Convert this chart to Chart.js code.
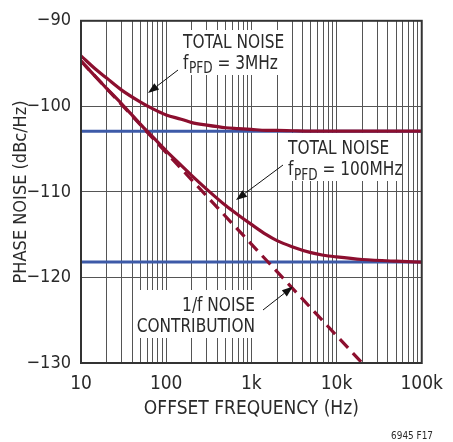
<!DOCTYPE html>
<html>
<head>
<meta charset="utf-8">
<script src="https://cdn.jsdelivr.net/npm/chart.js@4.4.1/dist/chart.umd.min.js"></script>
<style>
  html, body { margin: 0; padding: 0; background: #fff; }
  canvas { display: block; }
</style>
</head>
<body>
<canvas id="noise" width="453" height="442"></canvas>
<script>
// values
const freqs = [10, 15, 20, 30, 50, 70, 100, 150, 200, 300, 500, 700, 1000, 1500, 2000, 3000, 5000, 7000, 10000, 20000, 50000, 100000];
const total3MHz = [-94.1, -95.7, -96.7, -98.1, -99.5, -100.3, -101.0, -101.5, -101.9, -102.2, -102.5, -102.6, -102.7, -102.8, -102.8, -102.85, -102.9, -102.9, -102.9, -102.9, -102.9, -102.9];
const total100MHz = [-94.7, -96.6, -97.9, -99.7, -102.1, -103.6, -105.2, -106.9, -108.1, -109.7, -111.6, -112.7, -113.8, -115.0, -115.7, -116.4, -117.1, -117.4, -117.6, -117.9, -118.1, -118.2];
const oneOverFFreqs = [10, 100, 1000, 10000, 20000];
const oneOverF = [-94.7, -105.4, -116.1, -126.8, -130];
const floorFreqs = [10, 100000];
const floor3MHz = [-102.9, -102.9];
const floor100MHz = [-118.2, -118.2];

const xDecades = [10, 100, 1000, 10000, 100000];
const xDecadeLabels = ['10', '100', '1k', '10k', '100k'];
const yTicks = [-130, -120, -110, -100, -90];
const yTickLabels = ['\u2212130', '\u2212120', '\u2212110', '\u2212100', '\u221290'];

const FONT = "'Liberation Sans Narrow', 'DejaVu Sans Condensed', 'Liberation Sans', sans-serif";
const RED = '#8c0f2f';
const BLUE = '#3d5aa8';
const INK = '#2a2a2a';
const GRID = '#555';
const SQUEEZE = 0.9; // note text is a bit narrower than the font

function pts(xs, ys) {
    return xs.map((x, i) => ({ x: x, y: ys[i] }));
}

// gridlines at 1..9 x each decade
const gridFreqs = [];
for (let d = 10; d < 100000; d *= 10) {
    for (let k = 1; k < 10; k++) gridFreqs.push(d * k);
}
gridFreqs.push(100000);

// draw text squeezed horizontally, anchored at x
function note(c, text, x, y, size, align) {
    c.save();
    c.font = size + 'px ' + FONT;
    c.textAlign = align || 'left';
    c.translate(x, y);
    c.scale(SQUEEZE, 1);
    c.fillText(text, 0, 0);
    const w = c.measureText(text).width * SQUEEZE;
    c.restore();
    return w;
}

function subLabel(c, x, y, val) {
    let w = note(c, 'f', x, y, 19) + 0.5;
    w += note(c, 'PFD', x + w, y + 4.5, 15);
    note(c, ' = ' + val, x + w, y, 19);
}

function arrow(c, x1, y1, x2, y2) {
    const ang = Math.atan2(y2 - y1, x2 - x1);
    const len = 11, half = 4;
    const bx = x2 - len * Math.cos(ang), by = y2 - len * Math.sin(ang);
    c.strokeStyle = '#111';
    c.fillStyle = '#111';
    c.lineWidth = 1;
    c.beginPath();
    c.moveTo(x1, y1);
    c.lineTo(bx, by);
    c.stroke();
    c.beginPath();
    c.moveTo(x2, y2);
    c.lineTo(bx + half * Math.sin(ang), by - half * Math.cos(ang));
    c.lineTo(bx - half * Math.sin(ang), by + half * Math.cos(ang));
    c.closePath();
    c.fill();
}

// white patches behind the notes, arrows, note text
const notesPlugin = {
    id: 'notes',
    beforeDatasetsDraw(chart) {
        const c = chart.ctx;
        c.save();
        c.fillStyle = '#fff';
        c.fillRect(178, 30, 110, 45);
        c.fillRect(285, 133, 116, 48);
        c.fillRect(133, 290, 130, 48);
        c.restore();
    },
    afterDatasetsDraw(chart) {
        const c = chart.ctx;
        const a = chart.chartArea;
        c.save();
        // frame
        c.strokeStyle = '#333';
        c.lineWidth = 2;
        c.strokeRect(a.left, a.top, a.right - a.left, a.bottom - a.top);

        c.fillStyle = INK;
        c.textBaseline = 'alphabetic';
        note(c, 'TOTAL NOISE', 183, 48, 19);
        subLabel(c, 183, 68.5, '3MHz');
        note(c, 'TOTAL NOISE', 288, 153.5, 19);
        subLabel(c, 288, 175, '100MHz');
        note(c, '1/f NOISE', 255, 311, 19, 'right');
        note(c, 'CONTRIBUTION', 255, 332, 19, 'right');

        arrow(c, 178, 70, 148, 93);
        arrow(c, 283, 165, 236, 200);
        arrow(c, 263, 310, 293, 286.5);

        // figure id
        c.fillStyle = INK;
        note(c, '6945 F17', 433, 439, 11, 'right');
        c.restore();
    }
};

const ctx = document.getElementById('noise');
new Chart(ctx, {
    type: 'line',
    data: {
        datasets: [
            {
                label: 'TOTAL NOISE fPFD = 3MHz',
                data: pts(freqs, total3MHz),
                borderColor: RED,
                borderWidth: 3.2,
                cubicInterpolationMode: 'monotone',
                pointRadius: 0
            },
            {
                label: 'TOTAL NOISE fPFD = 100MHz',
                data: pts(freqs, total100MHz),
                borderColor: RED,
                borderWidth: 3.2,
                cubicInterpolationMode: 'monotone',
                pointRadius: 0
            },
            {
                label: '1/f NOISE CONTRIBUTION',
                data: pts(oneOverFFreqs, oneOverF),
                borderColor: RED,
                borderWidth: 3.2,
                borderDash: [12, 7],
                pointRadius: 0
            },
            {
                label: 'floor 3MHz',
                data: pts(floorFreqs, floor3MHz),
                borderColor: BLUE,
                borderWidth: 3,
                pointRadius: 0
            },
            {
                label: 'floor 100MHz',
                data: pts(floorFreqs, floor100MHz),
                borderColor: BLUE,
                borderWidth: 3,
                pointRadius: 0
            }
        ]
    },
    options: {
        responsive: false,
        animation: false,
        devicePixelRatio: 1,
        layout: { padding: { left: 0, right: 20, top: 12, bottom: 0 } },
        plugins: {
            legend: { display: false },
            tooltip: { enabled: false }
        },
        scales: {
            x: {
                type: 'logarithmic',
                min: 10,
                max: 100000,
                afterBuildTicks: scale => {
                    scale.ticks = gridFreqs.map(v => ({ value: v }));
                },
                afterFit: scale => { scale.height = 79; },
                ticks: {
                    autoSkip: false,
                    maxRotation: 0,
                    padding: 10,
                    color: INK,
                    font: { family: FONT, size: 19 },
                    callback: v => {
                        const i = xDecades.indexOf(v);
                        return i >= 0 ? xDecadeLabels[i] : '';
                    }
                },
                grid: { color: GRID, lineWidth: 1, drawTicks: false },
                border: { color: '#333', width: 2 },
                title: {
                    display: true,
                    text: 'OFFSET FREQUENCY (Hz)',
                    color: INK,
                    font: { family: FONT, size: 19 },
                    padding: { top: 0, bottom: 22 }
                }
            },
            y: {
                type: 'linear',
                min: -130,
                max: -90,
                afterBuildTicks: scale => {
                    scale.ticks = yTicks.map(v => ({ value: v }));
                },
                afterFit: scale => { scale.width = 81; },
                ticks: {
                    padding: 10,
                    color: INK,
                    font: { family: FONT, size: 18 },
                    callback: v => {
                        const i = yTicks.indexOf(v);
                        return i >= 0 ? yTickLabels[i] : '';
                    }
                },
                grid: { color: GRID, lineWidth: 1, drawTicks: false },
                border: { color: '#333', width: 2 },
                title: {
                    display: true,
                    text: 'PHASE NOISE (dBc/Hz)',
                    color: INK,
                    font: { family: FONT, size: 18 },
                    padding: { top: 11, bottom: 0 }
                }
            }
        }
    },
    plugins: [notesPlugin]
});
</script>
</body>
</html>
